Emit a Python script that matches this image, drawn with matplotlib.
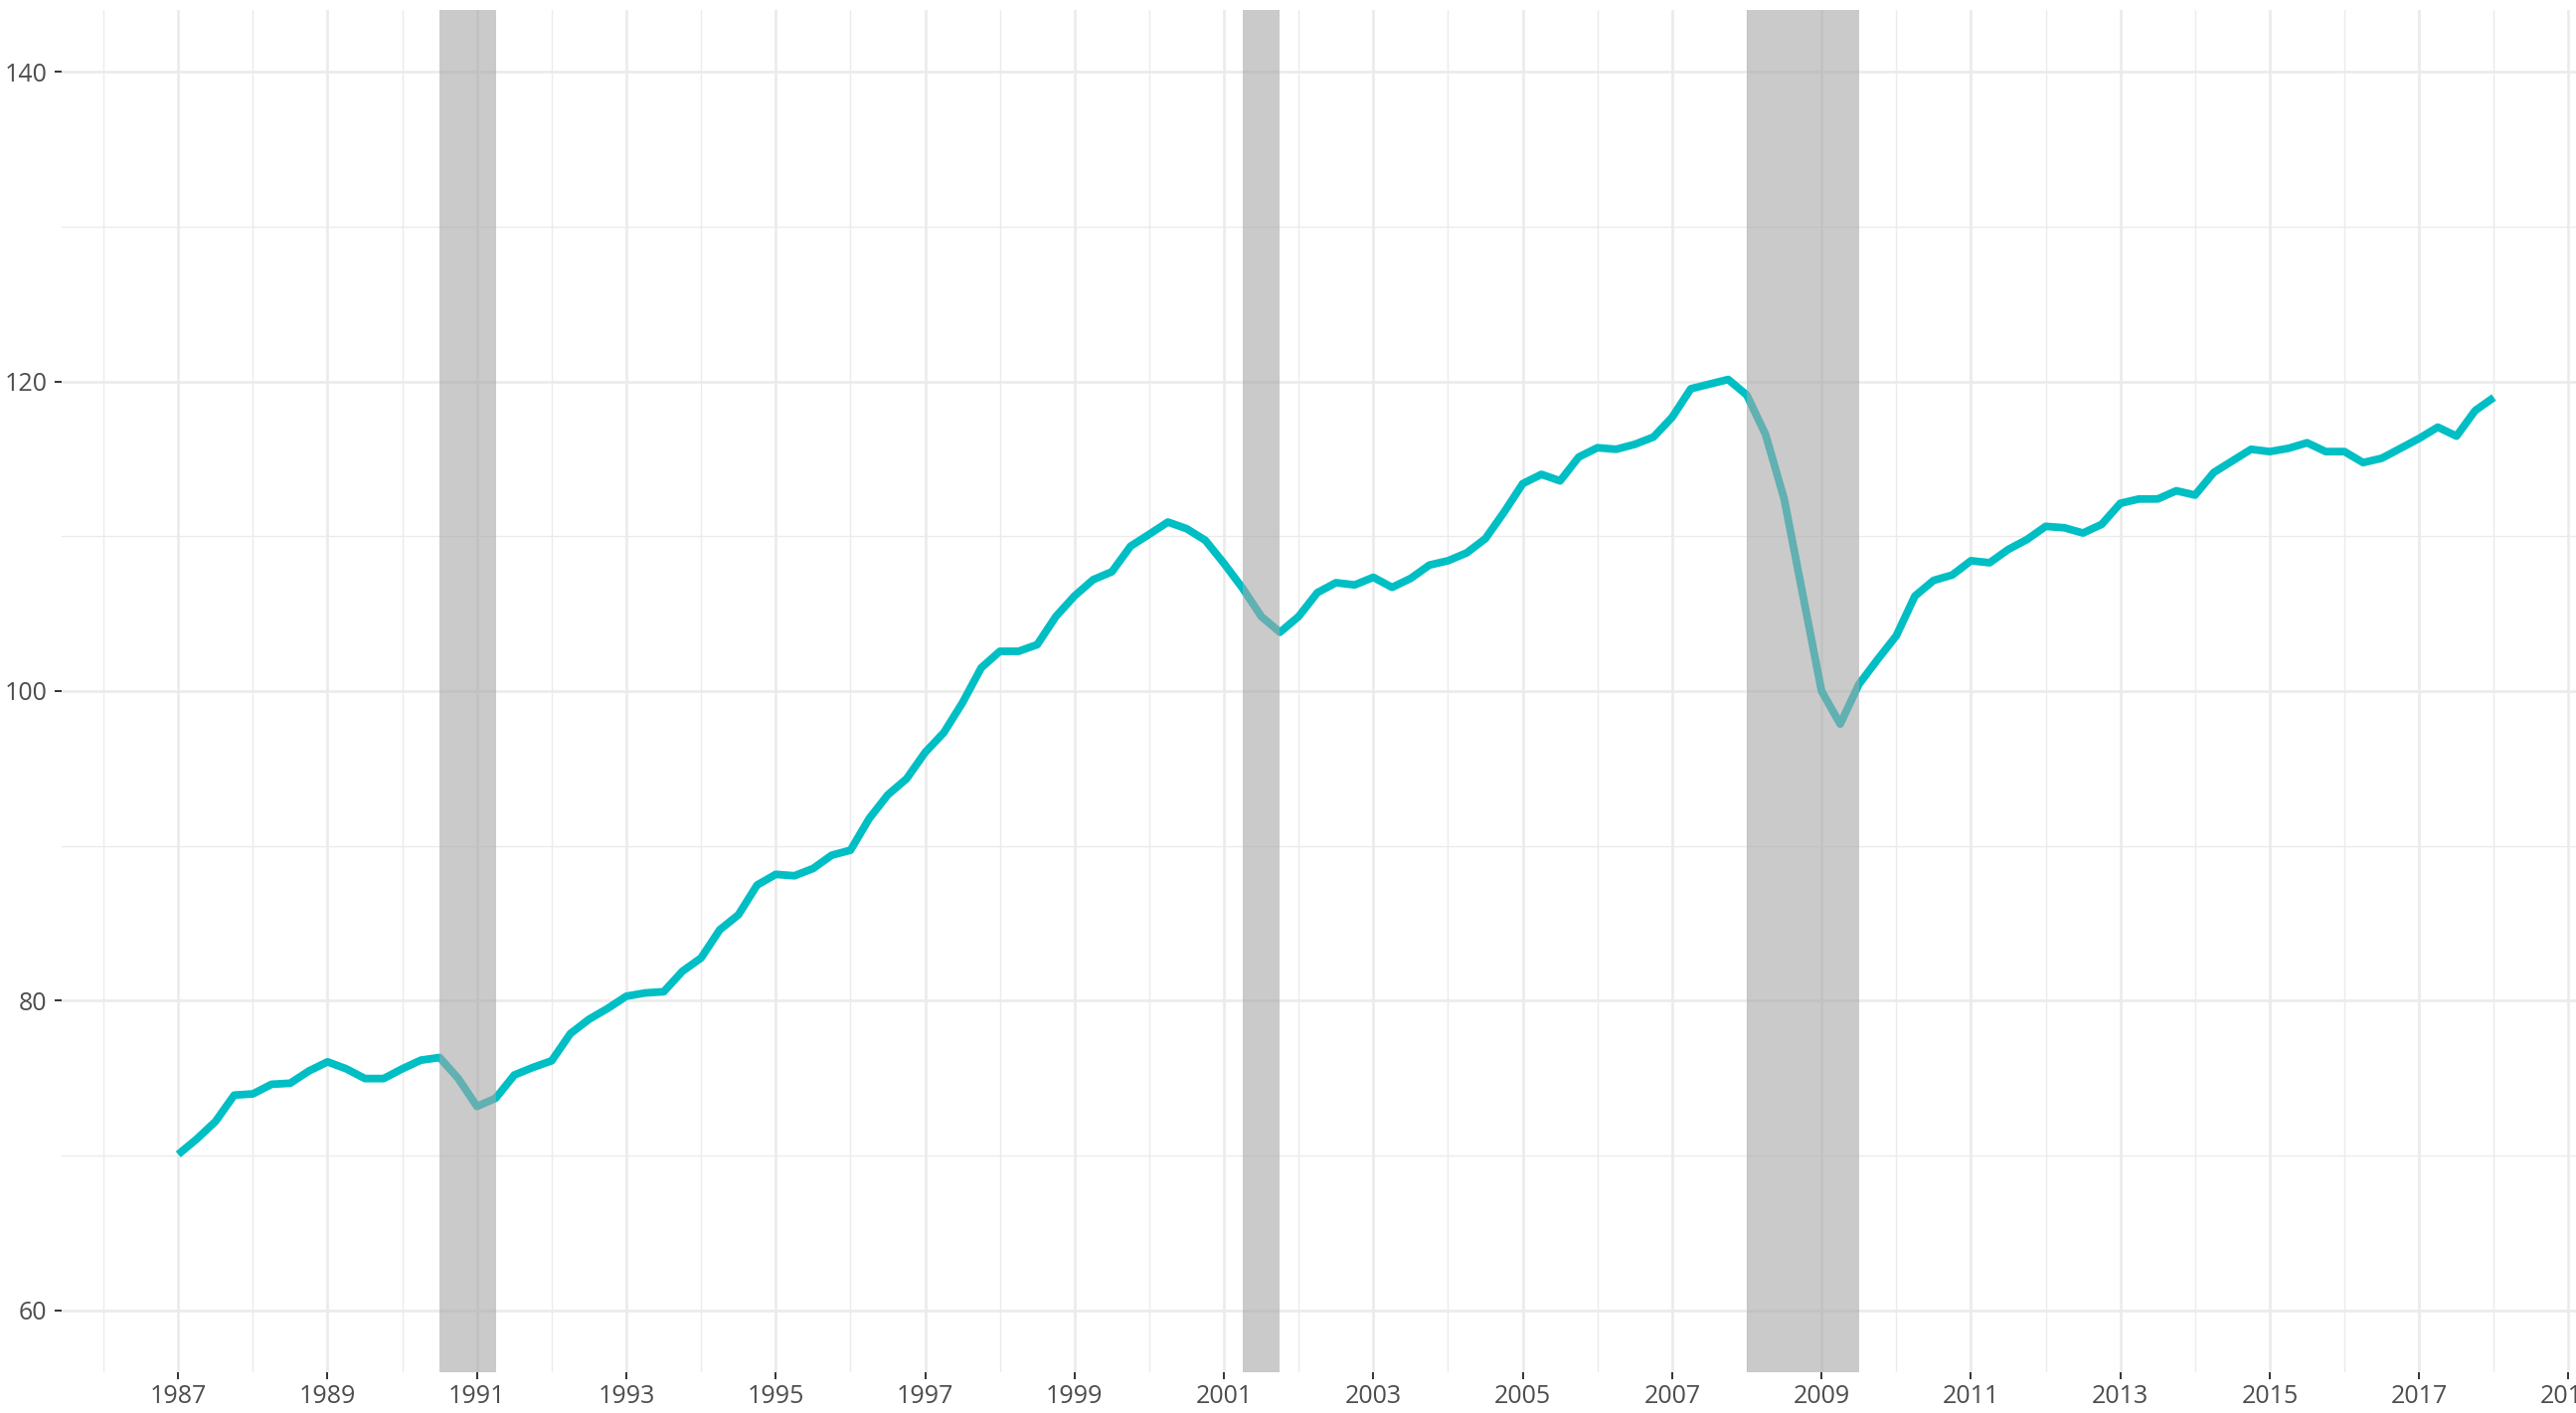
import numpy as np
import matplotlib.pyplot as plt

# quarterly index values, 1987Q1 .. 2018Q1
values = [
    70.07, 71.07, 72.20, 73.90,
    73.98, 74.60, 74.67, 75.46,
    76.05, 75.60, 74.97, 74.97,
    75.60, 76.16, 76.33, 74.97,
    73.17, 73.70, 75.20, 75.69,
    76.12, 77.87, 78.80, 79.50,
    80.29, 80.50, 80.58, 81.90,
    82.76, 84.58, 85.55, 87.47,
    88.16, 88.07, 88.54, 89.40,
    89.72, 91.76, 93.30, 94.33,
    96.04, 97.32, 99.25, 101.50,
    102.57, 102.57, 103.00, 104.82,
    106.15, 107.20, 107.71, 109.36,
    110.13, 110.92, 110.49, 109.74,
    108.25, 106.64, 104.82, 103.80,
    104.82, 106.36, 107.00, 106.86,
    107.35, 106.70, 107.28, 108.14,
    108.42, 108.93, 109.85, 111.56,
    113.40, 114.00, 113.58, 115.12,
    115.72, 115.62, 115.94, 116.41,
    117.69, 119.53, 119.83, 120.13,
    119.12, 116.58, 112.41, 106.20,
    100.00, 97.87, 100.44, 102.04,
    103.57, 106.14, 107.15, 107.50,
    108.42, 108.29, 109.15, 109.79,
    110.64, 110.55, 110.21, 110.77,
    112.13, 112.41, 112.41, 112.94,
    112.66, 114.12, 114.87, 115.62,
    115.47, 115.68, 116.04, 115.47,
    115.47, 114.76, 115.04, 115.68,
    116.32, 117.05, 116.47, 118.12,
    118.97,
]
start_year = 1987
years = start_year + np.arange(len(values)) / 4

# recession periods (start, end) in decimal years
recessions = [(1990.5, 1991.25), (2001.25, 2001.75), (2008.0, 2009.5)]

x_major = np.arange(1987, 2020, 2)
x_minor = np.arange(1986, 2020, 2)
y_major = np.arange(60, 141, 20)
y_minor = np.arange(70, 141, 20)

plt.rcParams["font.family"] = ["Open Sans", "DejaVu Sans"]

W, H = 2591, 1421
fig = plt.figure(figsize=(W / 100, H / 100), dpi=100)
ax = fig.add_axes([62 / W, 41 / H, (W - 62) / W, (1380 - 10) / H])

ax.plot(years, values, color="#00BFC4", linewidth=5.6,
        solid_joinstyle="round", solid_capstyle="butt", zorder=3)

for a, b in recessions:
    ax.axvspan(a, b, color=(166 / 255, 166 / 255, 166 / 255), alpha=0.59,
               linewidth=0, zorder=4)

ax.set_xlim(1985.44, 2019.10)
ax.set_ylim(56, 144)

ax.set_xticks(x_major)
ax.set_xticks(x_minor, minor=True)
ax.set_yticks(y_major)
ax.set_yticks(y_minor, minor=True)

ax.grid(which="major", color="#EBEBEB", linewidth=1.9, zorder=0)
ax.grid(which="minor", color="#EBEBEB", linewidth=1.0, zorder=0)
ax.set_axisbelow(True)

for s in ax.spines.values():
    s.set_visible(False)

ax.tick_params(which="major", length=5, width=1.4, color="#333333",
               labelsize=18, labelcolor="#4D4D4D")
ax.tick_params(axis="y", which="major", pad=5.5)
ax.tick_params(axis="x", which="major", pad=3.5)
ax.tick_params(which="minor", length=0)

fig.savefig("out.png", dpi=100)
